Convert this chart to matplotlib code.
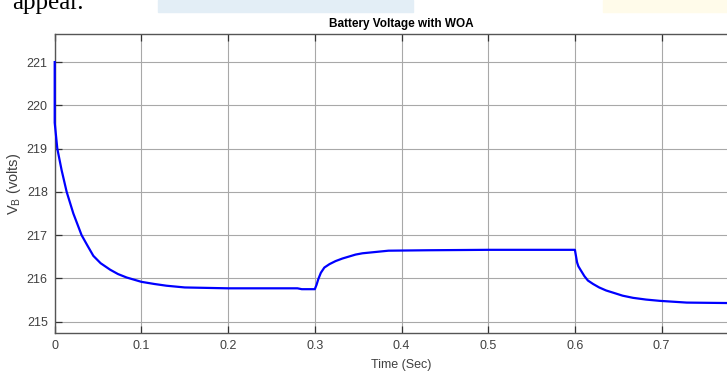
import matplotlib.pyplot as plt
from matplotlib.patches import Rectangle

# battery voltage trace (time in s, voltage in V)
t = [0, 0, 0.003, 0.008, 0.0138, 0.0215, 0.031, 0.038, 0.0446, 0.053, 0.064,
     0.073, 0.083, 0.1, 0.115, 0.129, 0.15, 0.2, 0.25, 0.28, 0.285, 0.3,
     0.302, 0.304, 0.307, 0.311, 0.317, 0.324, 0.332, 0.347, 0.355, 0.37,
     0.385, 0.43, 0.5, 0.6, 0.6025, 0.604, 0.607, 0.611, 0.615, 0.621, 0.628,
     0.636, 0.644, 0.655, 0.667, 0.682, 0.698, 0.729, 0.775, 0.8]
v = [221.0, 219.6, 219.0, 218.5, 218.0, 217.5, 217.0, 216.75, 216.52, 216.35,
     216.2, 216.1, 216.02, 215.92, 215.87, 215.83, 215.79, 215.77, 215.77,
     215.77, 215.75, 215.75, 215.85, 215.98, 216.13, 216.25, 216.33, 216.4,
     216.46, 216.55, 216.58, 216.61, 216.64, 216.65, 216.66, 216.66, 216.37,
     216.28, 216.18, 216.05, 215.95, 215.87, 215.79, 215.72, 215.67, 215.6,
     215.55, 215.51, 215.48, 215.44, 215.43, 215.42]

xticks = [0, 0.1, 0.2, 0.3, 0.4, 0.5, 0.6, 0.7]
xticklabels = ["0", "0.1", "0.2", "0.3", "0.4", "0.5", "0.6", "0.7"]
yticks = [215, 216, 217, 218, 219, 220, 221]

plt.rcParams['font.family'] = ['Liberation Sans Narrow', 'Liberation Sans', 'DejaVu Sans']

W, H = 727, 381
fig = plt.figure(figsize=(W / 100, H / 100), dpi=100)

# faint watermark bits and the cut-off page text at the top
fig.patches.append(Rectangle((158 / W, 1 - 12 / H), 255 / W, 12 / H,
                             transform=fig.transFigure, color='#e3eef6', zorder=0))
fig.patches.append(Rectangle((603 / W, 1 - 12 / H), 124 / W, 12 / H,
                             transform=fig.transFigure, color='#fffbea', zorder=0))
fig.text(12 / W, 1 - 9 / H, "appear.", family='Liberation Serif', fontsize=18,
         color='black', va='baseline', ha='left')

# axes run past the right edge of the picture (the reference is cropped)
x0, x1 = 54.7, 54.7 + 0.8 * 867
ytop, ybot = 34, 333.3
ax = fig.add_axes([x0 / W, 1 - ybot / H, (x1 - x0) / W, (ybot - ytop) / H])

ax.plot(t, v, color='#0000ff', lw=1.6, zorder=3, clip_on=False)

ax.set_xlim(0, 0.8)
ax.set_ylim(214.73, 221.65)
ax.set_xticks(xticks)
ax.set_xticklabels(xticklabels)
ax.set_yticks(yticks)
ax.grid(True, color='#a8a8a8', lw=0.8)
ax.set_axisbelow(True)

for s in ['left', 'bottom', 'top', 'right']:
    ax.spines[s].set_color('#555555')
    ax.spines[s].set_linewidth(1.0)
ax.tick_params(direction='in', length=5, width=0.9, color='#333333',
               labelcolor='#404040', labelsize=9, top=True, right=True, pad=5)

ax.set_title("Battery Voltage with WOA", fontsize=8.5, fontweight='bold', pad=5)
ax.set_xlabel("Time (Sec)", fontsize=9, color='#404040', labelpad=5)
ax.set_ylabel(r"V$_{\mathregular{B}}$ (volts)", fontsize=10.5, color='#404040', labelpad=3)

fig.savefig("out.png", dpi=100)
